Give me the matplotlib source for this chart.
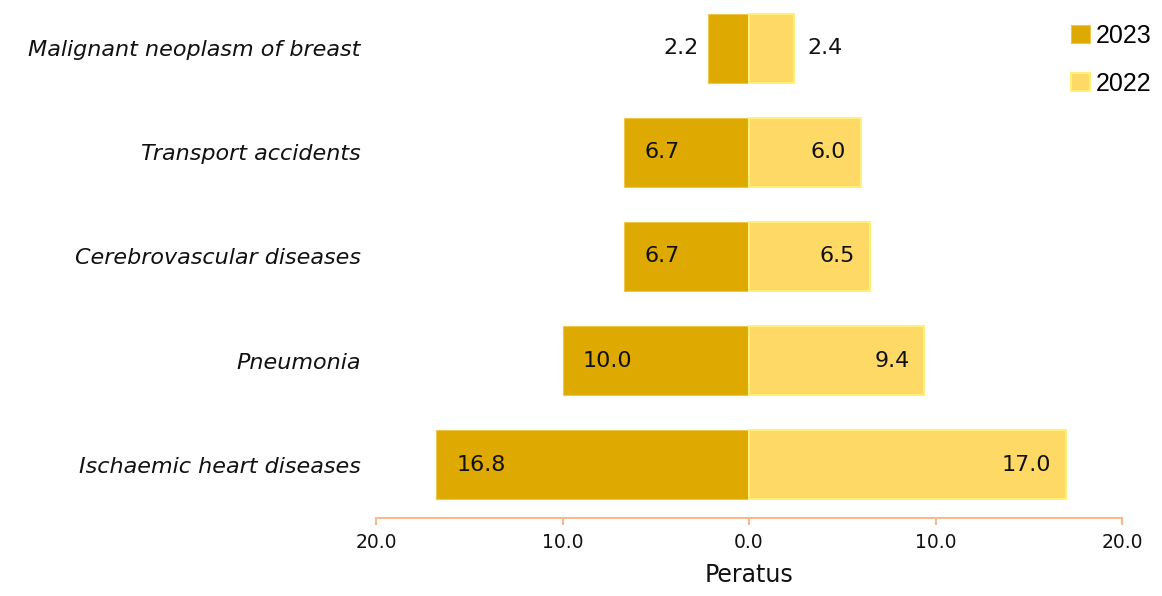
import matplotlib
matplotlib.use("Agg")
import matplotlib.pyplot as plt
import numpy as np

# data (bottom to top)
causes = ["Ischaemic heart diseases", "Pneumonia", "Cerebrovascular diseases",
          "Transport accidents", "Malignant neoplasm of breast"]
vals_2023 = [16.8, 10.0, 6.7, 6.7, 2.2]
vals_2022 = [17.0, 9.4, 6.5, 6.0, 2.4]
tick_vals = [-20, -10, 0, 10, 20]
tick_labels = ["20.0", "10.0", "0.0", "10.0", "20.0"]

c2023 = "#DEA900"
c2022 = "#FFD966"

fig = plt.figure(figsize=(11.62, 5.96), dpi=100)
ax = fig.add_axes([0.3236, 0.1309, 0.642, 0.867])

y = np.arange(len(causes))
h = 0.66
b1 = ax.barh(y, [-v for v in vals_2023], height=h, color=c2023,
             edgecolor="#EFC54A", linewidth=0.8, label="2023")
b2 = ax.barh(y, vals_2022, height=h, color=c2022,
             edgecolor="#FFF07A", linewidth=1.5, label="2022")

# value labels
for yi, v in zip(y, vals_2023):
    if v > 4:
        ax.text(-v + 1.1, yi, f"{v:.1f}", ha="left", va="center", fontsize=16, color="#111111")
    else:
        ax.text(-v - 0.5, yi, f"{v:.1f}", ha="right", va="center", fontsize=16, color="#111111")
for yi, v in zip(y, vals_2022):
    if v > 4:
        ax.text(v - 0.8, yi, f"{v:.1f}", ha="right", va="center", fontsize=16, color="#111111")
    else:
        ax.text(v + 0.75, yi, f"{v:.1f}", ha="left", va="center", fontsize=16, color="#111111")

ax.set_xlim(-20, 20)
ax.set_ylim(-0.51, 4.45)
ax.set_yticks(y)
ax.set_yticklabels(causes, fontsize=16, style="italic", color="#111111")
ax.tick_params(axis="y", length=0, pad=11)
ax.set_xticks(tick_vals)
ax.set_xticklabels(tick_labels, fontsize=13.5, color="#111111")
ax.tick_params(axis="x", length=5, width=1.5, color="#F8B98F", pad=6)

for s in ["top", "right", "left"]:
    ax.spines[s].set_visible(False)
ax.spines["bottom"].set_color("#F8B98F")
ax.spines["bottom"].set_linewidth(1.5)

ax.set_xlabel("Peratus", fontsize=17, color="#111111", labelpad=8)

leg = ax.legend(handles=[b1, b2], loc="upper right", bbox_to_anchor=(1.0 + 47 / 746, 0.99),
                frameon=False, handlelength=0.75, handleheight=0.75,
                handletextpad=0.25, labelspacing=0.95, borderaxespad=0.3,
                prop={"family": "Liberation Sans", "size": 18})

fig.savefig("out.png", dpi=100)
